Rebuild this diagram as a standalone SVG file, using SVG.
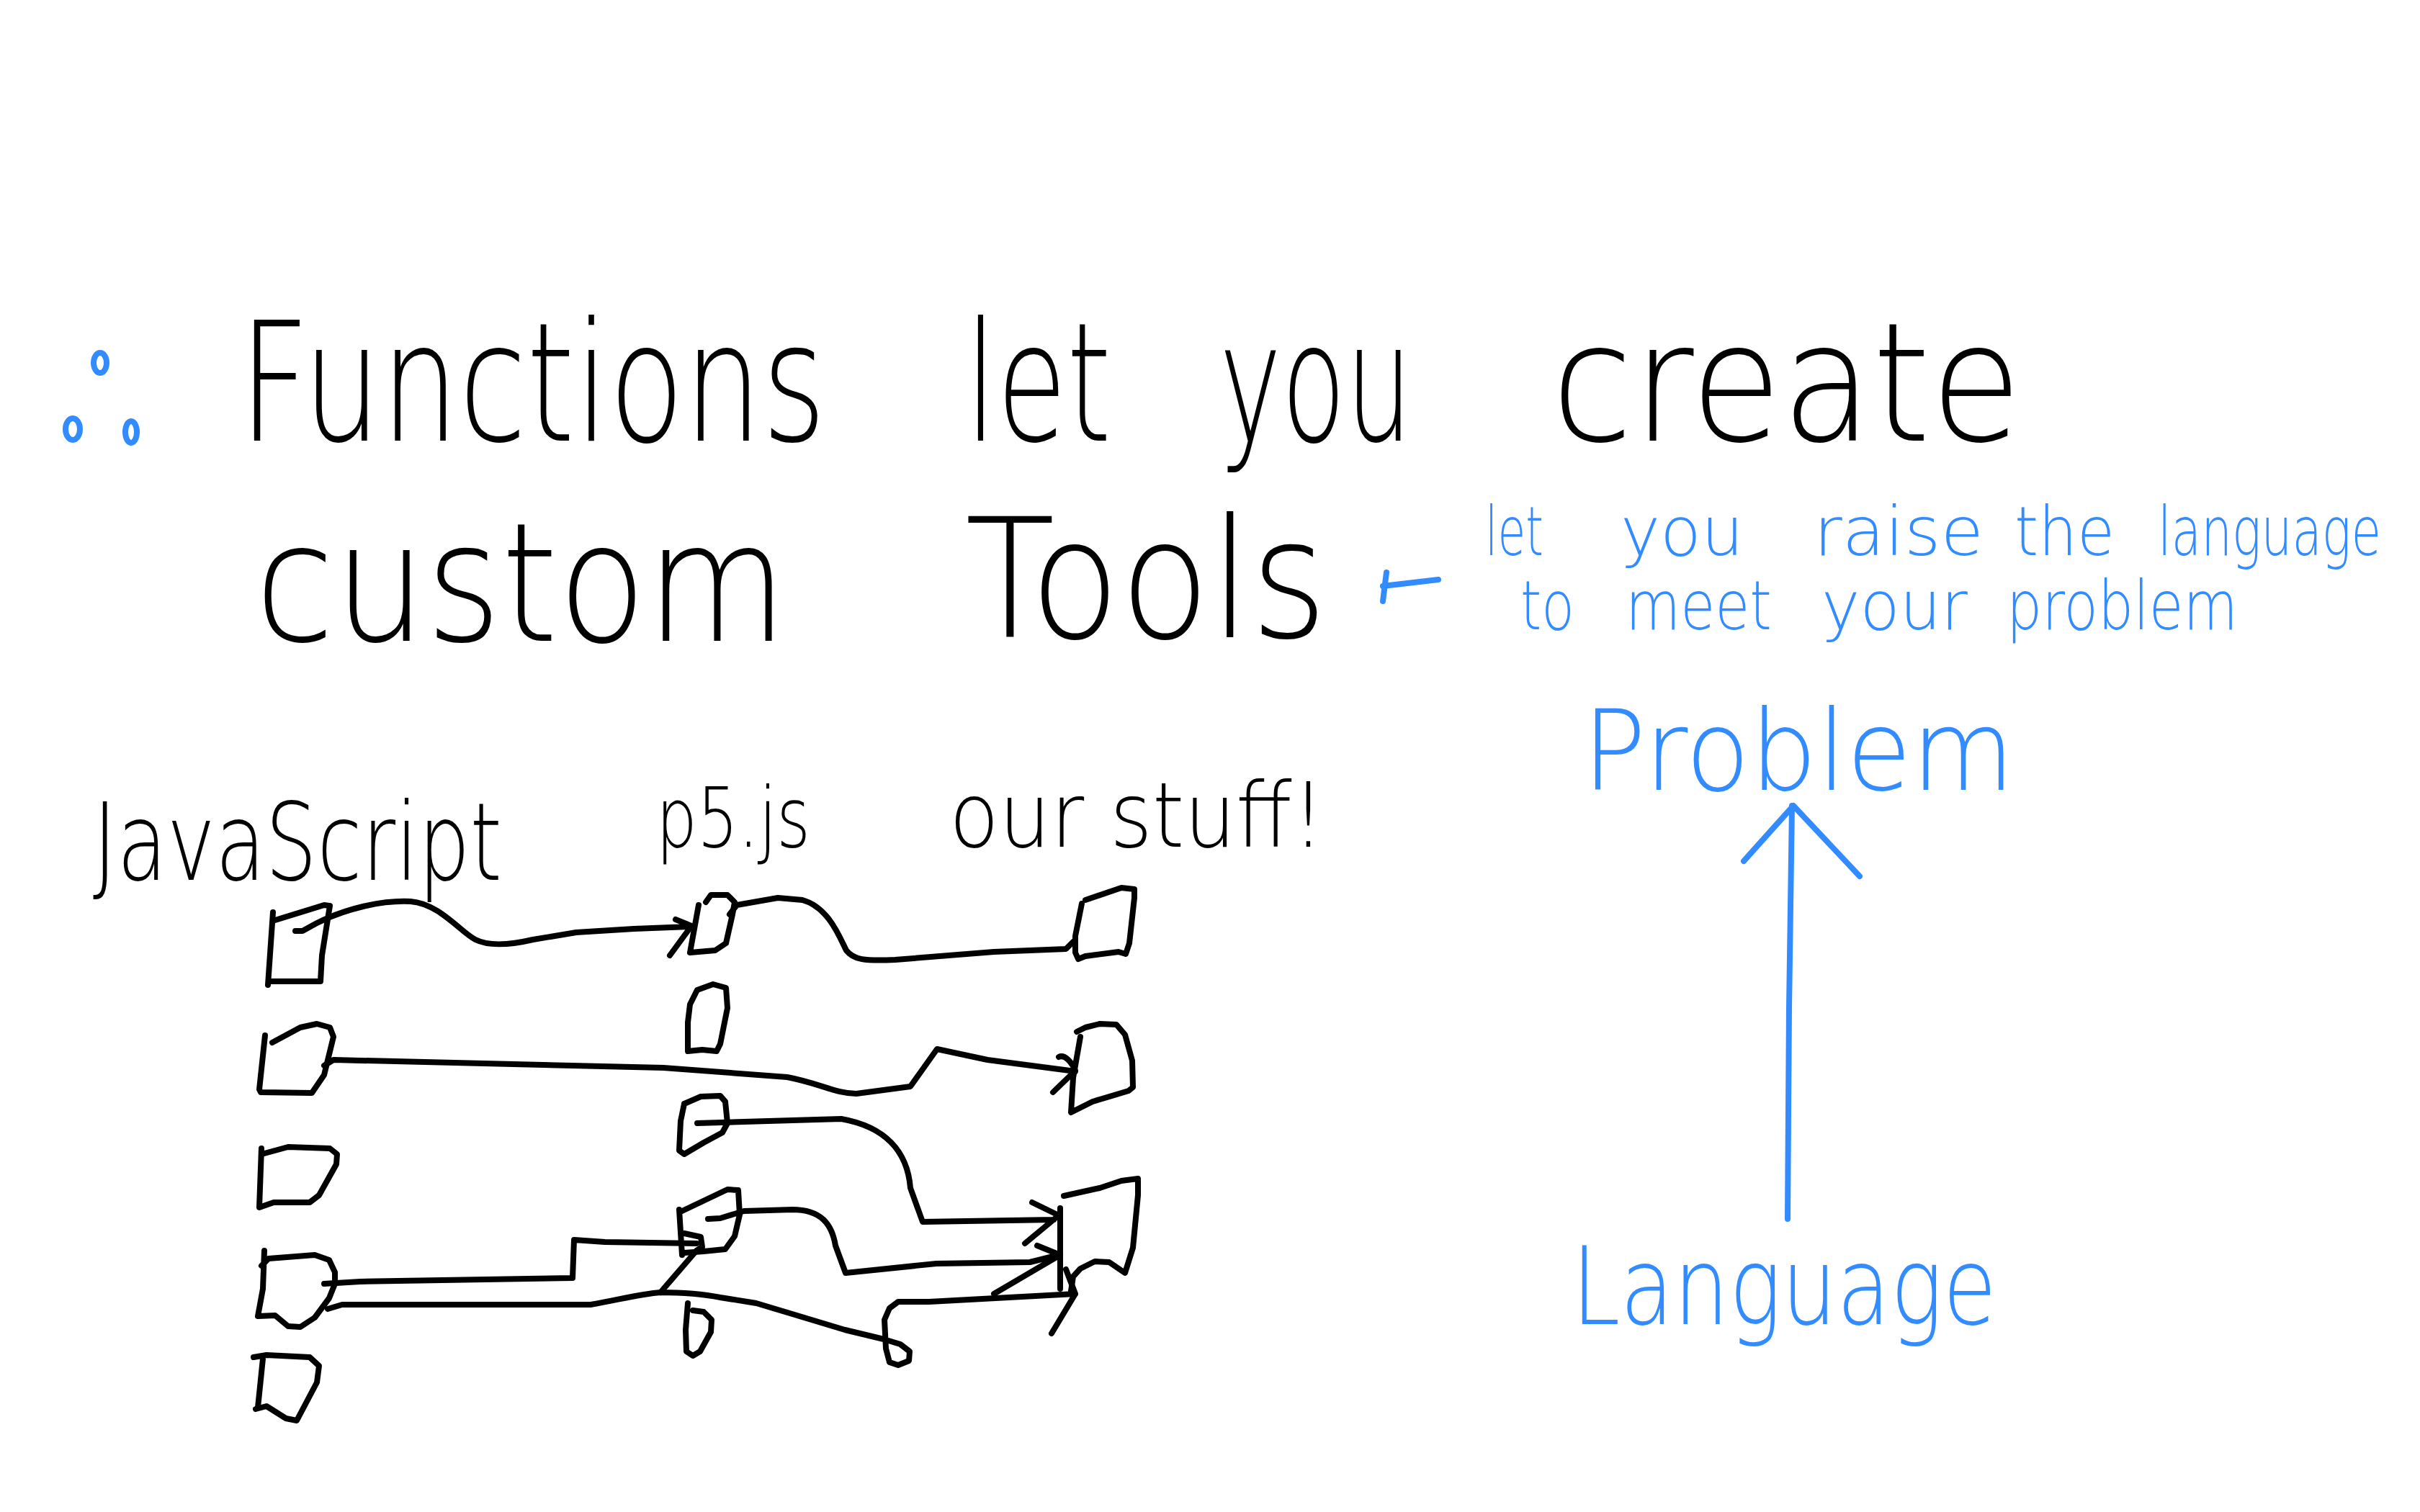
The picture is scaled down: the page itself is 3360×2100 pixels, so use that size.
<svg xmlns="http://www.w3.org/2000/svg" width="3360" height="2100" viewBox="0 0 3360 2100">
<style>
.k{fill:none;stroke:#000;stroke-width:8;stroke-linecap:round;stroke-linejoin:round}
.b{fill:none;stroke:#338cff;stroke-width:8;stroke-linecap:round;stroke-linejoin:round}
.tk{font-family:"DejaVu Sans","Liberation Sans",sans-serif;font-weight:200;fill:#000}
.tb{font-family:"DejaVu Sans","Liberation Sans",sans-serif;font-weight:200;fill:#338cff}
</style>
<rect width="3360" height="2100" fill="#fff"/>
<g id="bullet">
<ellipse class="b" cx="139" cy="504" rx="9" ry="14"/>
<ellipse class="b" cx="101" cy="596" rx="10" ry="15"/>
<ellipse class="b" cx="182" cy="600" rx="8" ry="15"/>
</g>
<g id="title">
<text class="tk" font-size="230" x="332" y="612" textLength="815" lengthAdjust="spacingAndGlyphs">Functions</text>
<text class="tk" font-size="230" x="1340" y="612" textLength="203" lengthAdjust="spacingAndGlyphs">let</text>
<text class="tk" font-size="230" x="1693" y="612" textLength="268" lengthAdjust="spacingAndGlyphs">you</text>
<text class="tk" font-size="230" x="2154" y="612" textLength="653" lengthAdjust="spacingAndGlyphs">create</text>
<text class="tk" font-size="230" x="354" y="890" textLength="739" lengthAdjust="spacingAndGlyphs">custom</text>
<text class="tk" font-size="230" x="1340" y="885" textLength="503" lengthAdjust="spacingAndGlyphs">Tools</text>
</g>
<g id="note">
<text class="tb" font-size="95" x="2062" y="771" textLength="81" lengthAdjust="spacingAndGlyphs">let</text>
<text class="tb" font-size="95" x="2250" y="771" textLength="171" lengthAdjust="spacingAndGlyphs">you</text>
<text class="tb" font-size="95" x="2518" y="771" textLength="236" lengthAdjust="spacingAndGlyphs">raise</text>
<text class="tb" font-size="95" x="2797" y="771" textLength="139" lengthAdjust="spacingAndGlyphs">the</text>
<text class="tb" font-size="95" x="2996" y="771" textLength="310" lengthAdjust="spacingAndGlyphs">language</text>
<text class="tb" font-size="95" x="2111" y="874" textLength="75" lengthAdjust="spacingAndGlyphs">to</text>
<text class="tb" font-size="95" x="2257" y="874" textLength="203" lengthAdjust="spacingAndGlyphs">meet</text>
<text class="tb" font-size="95" x="2529" y="874" textLength="203" lengthAdjust="spacingAndGlyphs">your</text>
<text class="tb" font-size="95" x="2786" y="874" textLength="321" lengthAdjust="spacingAndGlyphs">problem</text>
</g>
<g id="problem"><text class="tb" font-size="155" x="2197" y="1097" textLength="600" lengthAdjust="spacingAndGlyphs">Problem</text></g>
<g id="language"><text class="tb" font-size="150" x="2182" y="1839" textLength="590" lengthAdjust="spacingAndGlyphs">Language</text></g>
<g id="col-js"><text class="tk" font-size="150" x="129" y="1222" textLength="568" lengthAdjust="spacingAndGlyphs">JavaScript</text></g>
<g id="col-p5"><text class="tk" font-size="115" x="911" y="1176" textLength="214" lengthAdjust="spacingAndGlyphs">p5.js</text></g>
<g id="col-ours"><text class="tk" font-size="125" x="1318" y="1176" textLength="521" lengthAdjust="spacingAndGlyphs">our stuff!</text></g>
<g id="js-boxes">
<path id="js1" class="k" d="M379,1267 L372,1368 M377,1363 L445,1363 L447,1327 L458,1258 M382,1278 L450,1257 L457,1258"/>
<path id="js2" class="k" d="M368,1438 L360,1513 L362,1517 L433,1518 L450,1493 L463,1440 L458,1427 L440,1422 L417,1427 L378,1448"/>
<path id="js3" class="k" d="M363,1595 L360,1677 L380,1670 L430,1670 L443,1660 L467,1617 L468,1603 L458,1595 L400,1593 L367,1602"/>
<path id="js4" class="k" d="M367,1737 L365,1790 L358,1828 L382,1827 L400,1842 L417,1843 L437,1830 L457,1803 L465,1783 L465,1767 L457,1750 L437,1743 L373,1748 L363,1758"/>
<path id="js5" class="k" d="M352,1885 L370,1882 L430,1885 L443,1897 L440,1920 L412,1973 L397,1970 L370,1953 L355,1957 M358,1955 L365,1887"/>
</g>
<g id="p5-boxes">
<path id="p51" class="k" d="M970,1257 L958,1323 L993,1320 L1008,1310 L1017,1270 L1020,1253 L1010,1243 L987,1243 L980,1253"/>
<path id="p52" class="k" d="M958,1395 L968,1375 L990,1367 L1008,1372 L1010,1400 L1000,1450 L995,1460 L975,1458 L955,1460 L955,1420 L958,1395"/>
<path id="p53" class="k" d="M950,1533 L973,1523 L1000,1522 L1007,1530 L1010,1560 L1003,1573 L977,1587 L950,1603 L943,1598 L945,1557 L950,1533"/>
<path id="p54" class="k" d="M943,1680 L947,1743 M947,1682 L1010,1652 L1025,1653 L1027,1687 L1020,1717 L1007,1735 L977,1738 L950,1740"/>
<path id="p55" class="k" d="M962,1820 L977,1822 L988,1833 L987,1850 L972,1877 L962,1883 L953,1877 L952,1847 L955,1810"/>
</g>
<g id="our-boxes">
<path id="s1" class="k" d="M1507,1250 L1557,1233 L1575,1235 L1575,1247 L1568,1310 L1563,1325 L1553,1322 L1507,1328 L1497,1332 L1493,1323 L1493,1300 L1502,1255"/>
<path id="s2" class="k" d="M1495,1433 L1507,1427 L1527,1422 L1550,1423 L1562,1437 L1572,1473 L1573,1510 L1567,1515 L1517,1530 L1497,1540 L1487,1545 L1490,1497 L1500,1440"/>
<path id="s3" class="k" d="M1477,1661 L1527,1650 L1557,1640 L1580,1637 L1580,1660 L1573,1733 L1562,1768 L1540,1753 L1520,1752 L1500,1762 L1490,1773 L1487,1793 M1472,1678 L1472,1790"/>
</g>
<g id="connectors">
<path class="k" d="M410,1293 L420,1293 L440,1282 C480,1262 530,1250 570,1252 C610,1255 640,1295 660,1305 C680,1315 710,1312 740,1305 L800,1295 L880,1290 L957,1287 M938,1277 L960,1286 L930,1327"/>
<path class="k" d="M1013,1270 L1023,1257 L1080,1247 L1114,1250 C1150,1260 1165,1300 1175,1320 C1185,1333 1200,1335 1243,1333 L1380,1322 L1480,1318 L1490,1308"/>
<path class="k" d="M450,1480 L463,1472 L921,1483 L1093,1496 C1140,1505 1160,1519 1189,1519 L1264,1509 L1301,1457 L1371,1472 L1493,1488 M1470,1468 C1478,1464 1488,1475 1493,1487 L1462,1517"/>
<path class="k" d="M968,1560 L1168,1554 C1230,1565 1260,1600 1264,1650 L1281,1697 L1463,1694 M1433,1670 L1470,1688 L1423,1727"/>
<path class="k" d="M983,1693 L1000,1692 L1033,1682 L1100,1680 C1140,1680 1155,1700 1160,1730 L1174,1768 L1300,1755 L1430,1753 L1470,1743 M1440,1730 L1472,1743 L1380,1797"/>
<path class="k" d="M450,1783 L500,1780 L795,1775 L797,1722 L840,1725 L967,1727 M950,1713 L973,1718 L975,1732 L967,1737 L917,1795"/>
<path class="k" d="M455,1818 L475,1812 L820,1812 C860,1805 890,1797 917,1795 C960,1795 990,1800 1000,1802 L1050,1810 L1100,1825 L1173,1847 L1227,1860 L1250,1867 L1263,1877 L1262,1890 L1247,1896 L1235,1892 L1230,1873 L1228,1833 L1235,1817 L1247,1808 L1290,1808 L1493,1797 M1480,1763 L1493,1797 L1460,1852"/>
<path class="b" d="M1997,805 L1920,814 M1925,795 L1920,835"/>
<path class="b" d="M2482,1693 L2484,1400 L2488,1119 M2421,1196 L2490,1119 L2582,1217"/>
</g>
</svg>
